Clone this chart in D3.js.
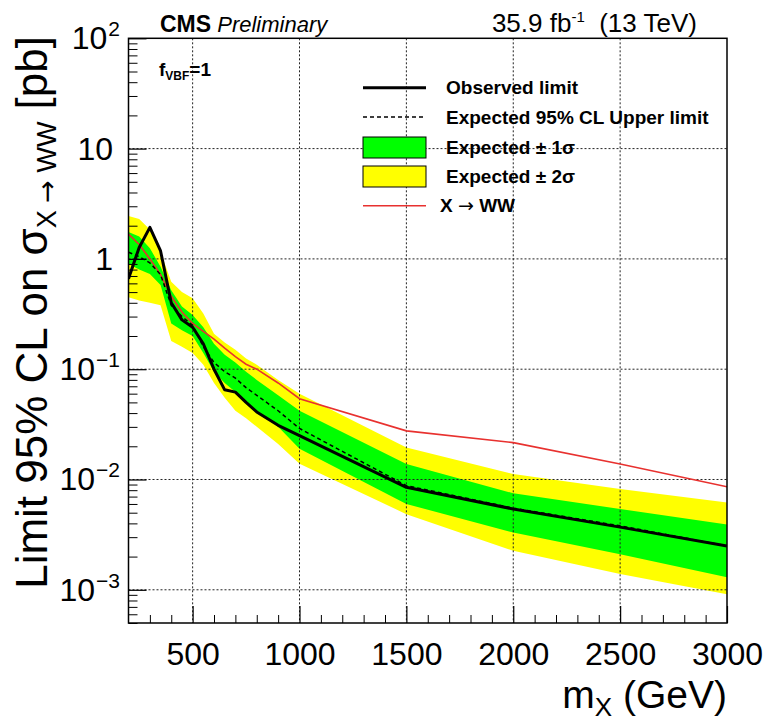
<!DOCTYPE html>
<html>
<head>
<meta charset="utf-8">
<script src="https://cdn.jsdelivr.net/npm/d3@7"></script>
<style>
  body { margin: 0; background: #fff; }
  svg { font-family: "Liberation Sans", Arial, Helvetica, sans-serif; }
  text { white-space: pre; }
  .arrow { font-family: "DejaVu Sans", sans-serif; font-weight: normal; }
</style>
</head>
<body>
<svg id="chart" width="768" height="728"></svg>
<script>
// mass points (GeV) and limits (pb)
const masses     = [200, 250, 300, 350, 400, 450, 500, 550, 600, 650, 700, 750, 800, 900, 1000, 1500, 2000, 2500, 3000];
const observed   = [0.66, 1.27, 1.93, 1.18, 0.40, 0.28, 0.24, 0.17, 0.10, 0.065, 0.062, 0.050, 0.041, 0.031, 0.025, 0.0085, 0.0054, 0.0037, 0.0025];
const expected   = [1.15, 1.05, 0.92, 0.72, 0.38, 0.30, 0.25, 0.16, 0.115, 0.095, 0.083, 0.068, 0.058, 0.042, 0.029, 0.0088, 0.0055, 0.0038, 0.0025];
const sigma2Up   = [2.45, 2.30, 1.85, 1.15, 0.62, 0.50, 0.44, 0.32, 0.21, 0.175, 0.15, 0.125, 0.11, 0.08, 0.060, 0.0195, 0.0112, 0.0082, 0.0062];
const sigma1Up   = [1.75, 1.60, 1.25, 0.85, 0.52, 0.37, 0.31, 0.24, 0.17, 0.135, 0.115, 0.095, 0.080, 0.058, 0.042, 0.0138, 0.0075, 0.0054, 0.0039];
const sigma1Down = [0.90, 0.80, 0.73, 0.58, 0.26, 0.225, 0.20, 0.14, 0.095, 0.075, 0.062, 0.050, 0.042, 0.030, 0.019, 0.0060, 0.0033, 0.0021, 0.0013];
const sigma2Down = [0.45, 0.42, 0.40, 0.38, 0.18, 0.16, 0.14, 0.11, 0.075, 0.055, 0.042, 0.036, 0.030, 0.021, 0.0139, 0.00485, 0.00226, 0.00139, 0.00091];
const theoryWW   = [1.68, 1.35, 1.0, 0.72, 0.46, 0.33, 0.26, 0.22, 0.187, 0.155, 0.13, 0.111, 0.10, 0.075, 0.054, 0.0276, 0.0216, 0.0138, 0.0086];

const xMajorTicks = [500, 1000, 1500, 2000, 2500, 3000];
const yExponents  = [-3, -2, -1, 0, 1, 2];
const legendLabels = ['Observed limit', 'Expected 95% CL Upper limit', 'Expected \u00b1 1\u03c3', 'Expected \u00b1 2\u03c3', 'X \u2192 WW'];

const frame = {left: 128.5, right: 727, top: 38.3, bottom: 623};
const svg = d3.select('#chart');

const x = d3.scaleLinear().domain([200, 3000]).range([frame.left, frame.right]);
const y = d3.scaleLog().domain([5e-4, 100]).range([frame.bottom, frame.top]);

const rows = masses.map((m, i) => ({
  m: m, obs: observed[i], exp: expected[i], th: theoryWW[i],
  u1: sigma1Up[i], d1: sigma1Down[i], u2: sigma2Up[i], d2: sigma2Down[i]
}));

// text with a "→" drawn in a font that has a full-size arrow
function appendWithArrow(sel, str) {
  str.split('\u2192').forEach((part, i) => {
    if (i > 0) sel.append('tspan').attr('class', 'arrow').text('\u2192');
    sel.append('tspan').text(part);
  });
}

const plot = svg.append('g');
plot.append('defs').append('clipPath').attr('id', 'clip')
  .append('rect')
  .attr('x', frame.left).attr('y', frame.top)
  .attr('width', frame.right - frame.left).attr('height', frame.bottom - frame.top);

const bands = plot.append('g').attr('clip-path', 'url(#clip)');
bands.append('path')
  .datum(rows)
  .attr('fill', '#ffff00')
  .attr('d', d3.area().x(d => x(d.m)).y0(d => y(d.d2)).y1(d => y(d.u2)));
bands.append('path')
  .datum(rows)
  .attr('fill', '#00ff00')
  .attr('d', d3.area().x(d => x(d.m)).y0(d => y(d.d1)).y1(d => y(d.u1)));

// grid (dotted, on top of the bands)
const grid = plot.append('g')
  .attr('stroke', '#222').attr('stroke-width', 1).attr('stroke-dasharray', '2,2');
grid.selectAll('.vgrid')
  .data(xMajorTicks.filter(v => v < 3000))
  .enter().append('line')
  .attr('x1', d => x(d)).attr('x2', d => x(d))
  .attr('y1', frame.top).attr('y2', frame.bottom);
grid.selectAll('.hgrid')
  .data(yExponents.filter(e => e < 2))
  .enter().append('line')
  .attr('x1', frame.left).attr('x2', frame.right)
  .attr('y1', d => y(Math.pow(10, d))).attr('y2', d => y(Math.pow(10, d)));

// curves
const lines = plot.append('g').attr('clip-path', 'url(#clip)').attr('fill', 'none');
lines.append('path')
  .datum(rows)
  .attr('stroke', '#e8312f').attr('stroke-width', 1.6)
  .attr('d', d3.line().x(d => x(d.m)).y(d => y(d.th)));
lines.append('path')
  .datum(rows)
  .attr('stroke', '#000').attr('stroke-width', 1.5).attr('stroke-dasharray', '4,3')
  .attr('d', d3.line().x(d => x(d.m)).y(d => y(d.exp)));
lines.append('path')
  .datum(rows)
  .attr('stroke', '#000').attr('stroke-width', 3).attr('stroke-linejoin', 'round')
  .attr('d', d3.line().x(d => x(d.m)).y(d => y(d.obs)));

// frame
plot.append('rect')
  .attr('x', frame.left).attr('y', frame.top)
  .attr('width', frame.right - frame.left).attr('height', frame.bottom - frame.top)
  .attr('fill', 'none').attr('stroke', '#000').attr('stroke-width', 1.5);

// x axis
const xMinor = d3.range(300, 3000, 100).filter(v => v % 500 !== 0);
const xMinorAxis = d3.axisBottom(x).tickValues(xMinor).tickSize(-8).tickFormat('');
const xMajorAxis = d3.axisBottom(x).tickValues(xMajorTicks).tickSize(-17).tickPadding(19).tickFormat(d3.format('d'));
svg.append('g').attr('transform', `translate(0,${frame.bottom})`).call(xMinorAxis)
  .call(g => g.select('.domain').remove());
const xg = svg.append('g').attr('transform', `translate(0,${frame.bottom})`).call(xMajorAxis);
xg.select('.domain').remove();
xg.selectAll('line').attr('stroke-width', 1.2);
xg.selectAll('text').attr('font-size', 32).attr('fill', '#000').attr('font-family', null);

// y axis
const yMinor = [];
for (let e = -4; e <= 1; e++) {
  for (let k = 2; k <= 9; k++) {
    const v = k * Math.pow(10, e);
    if (v >= 5e-4 && v <= 100) yMinor.push(v);
  }
}
svg.append('g').attr('transform', `translate(${frame.left},0)`)
  .call(d3.axisLeft(y).tickValues(yMinor).tickSize(-9).tickFormat(''))
  .call(g => g.select('.domain').remove());
svg.append('g').attr('transform', `translate(${frame.left},0)`)
  .call(d3.axisLeft(y).tickValues(yExponents.map(e => Math.pow(10, e))).tickSize(-18).tickFormat(''))
  .call(g => g.select('.domain').remove())
  .call(g => g.selectAll('line').attr('stroke-width', 1.2));

const yLab = svg.append('g').attr('font-size', 32);
yExponents.forEach(e => {
  const yy = y(Math.pow(10, e)) + 11;
  if (e === 0 || e === 1) {
    yLab.append('text').attr('x', 113).attr('y', yy).attr('text-anchor', 'end').text(e === 0 ? '1' : '10');
  } else {
    const sup = yLab.append('text').attr('x', 120).attr('y', yy - 13).attr('text-anchor', 'end')
      .attr('font-size', 21).text(e === 2 ? '2' : '\u2212' + (-e));
    const w = sup.node().getComputedTextLength();
    yLab.append('text').attr('x', 120 - w - 1).attr('y', yy).attr('text-anchor', 'end').text('10');
  }
});

// axis titles
const yTitle = svg.append('text')
  .attr('transform', 'translate(47,36) rotate(-90)')
  .attr('text-anchor', 'end')
  .attr('font-size', 44);
yTitle.append('tspan').text('Limit 95% CL on \u03c3');
const ySub = yTitle.append('tspan').attr('font-size', 27).attr('dy', 9);
appendWithArrow(ySub, 'X \u2192 WW');
yTitle.append('tspan').attr('dy', -9).text(' [pb]');

const xTitle = svg.append('text')
  .attr('x', frame.right).attr('y', 708)
  .attr('text-anchor', 'end')
  .attr('font-size', 39);
xTitle.append('tspan').text('m');
xTitle.append('tspan').attr('font-size', 26).attr('dy', 8).text('X');
xTitle.append('tspan').attr('dy', -8).text(' (GeV)');

// header
const head = svg.append('text').attr('x', 160).attr('y', 32).attr('font-size', 22);
head.append('tspan').attr('font-weight', 'bold').attr('font-size', 23).text('CMS');
head.append('tspan').attr('font-style', 'italic').text(' Preliminary');

const lumi = svg.append('text').attr('x', 697).attr('y', 32).attr('font-size', 26).attr('text-anchor', 'end');
lumi.append('tspan').text('35.9 fb');
lumi.append('tspan').attr('font-size', 15).attr('dy', -10).text('-1');
lumi.append('tspan').attr('dy', 10).text('  (13 TeV)');

const fvbf = svg.append('text').attr('x', 159).attr('y', 76).attr('font-size', 19).attr('font-weight', 'bold');
fvbf.append('tspan').text('f');
fvbf.append('tspan').attr('font-size', 12).attr('dy', 4).text('VBF');
fvbf.append('tspan').attr('dy', -4).text('=1');

// legend
const legend = svg.append('g').attr('font-size', 19).attr('font-weight', 'bold');
const legendY = [87.7, 117, 147.5, 176.5, 205.7];
legendLabels.forEach((label, i) => {
  const cy = legendY[i];
  if (i === 0) {
    legend.append('line').attr('x1', 363).attr('x2', 426).attr('y1', cy).attr('y2', cy)
      .attr('stroke', '#000').attr('stroke-width', 3);
  } else if (i === 1) {
    legend.append('line').attr('x1', 363).attr('x2', 426).attr('y1', cy).attr('y2', cy)
      .attr('stroke', '#000').attr('stroke-width', 1.5).attr('stroke-dasharray', '4,3');
  } else if (i === 2 || i === 3) {
    legend.append('rect').attr('x', 363).attr('y', cy - 10.5).attr('width', 63).attr('height', 21)
      .attr('fill', i === 2 ? '#00ff00' : '#ffff00').attr('stroke', '#000').attr('stroke-width', 1);
  } else {
    legend.append('line').attr('x1', 363).attr('x2', 426).attr('y1', cy).attr('y2', cy)
      .attr('stroke', '#e8312f').attr('stroke-width', 1.6);
  }
  const t = legend.append('text').attr('x', i === 4 ? 440 : 446).attr('y', cy + 6.5);
  appendWithArrow(t, label);
});
</script>
</body>
</html>
